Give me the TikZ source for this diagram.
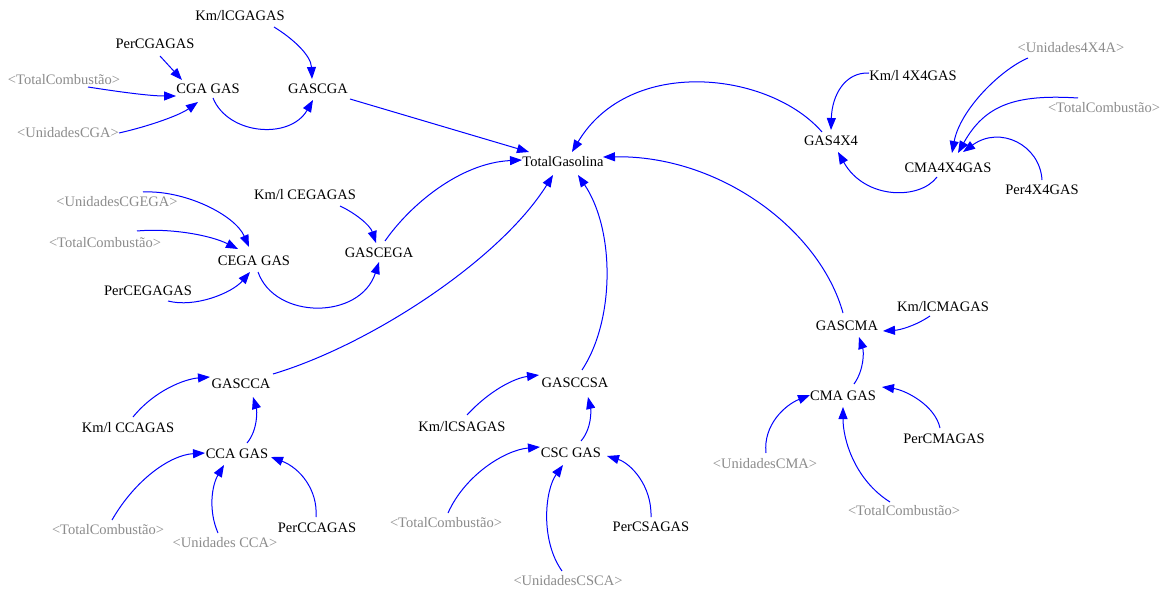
\documentclass[tikz,border=0pt]{standalone}
\usepackage{fontspec}
\setmainfont{Liberation Serif}
\usetikzlibrary{arrows.meta}
\definecolor{linkblue}{RGB}{0,0,255}
\definecolor{ghostgray}{RGB}{140,140,140}
\begin{document}
\begin{tikzpicture}[x=1pt,y=-1pt,
  var/.style={anchor=base,inner sep=0pt,text=black,font=\fontsize{14.5}{17}\selectfont},
  ghost/.style={var,text=ghostgray},
  link/.style={draw=linkblue,line width=1pt,-{Triangle[length=12pt,width=9pt]},fill=none}]
\useasboundingbox[fill=white] (0,0) rectangle (1168,591);

% ---- variables ----
\node[var]   (km1)     at (240,21)  {Km/lCGAGAS};
\node[var]   (percga)  at (155,49)  {PerCGAGAS};
\node[ghost] (tcCGA)   at (64,85)   {<TotalCombustão>};
\node[var]   (cga)     at (208,94)  {CGA GAS};
\node[var]   (gascga)  at (318,94)  {GASCGA};
\node[ghost] (ucga)    at (68,138)  {<UnidadesCGA>};
\node[var]   (total)   at (563,167) {TotalGasolina};

\node[ghost] (u4x4)    at (1071,53) {<Unidades4X4A>};
\node[var]   (km4)     at (913,81)  {Km/l 4X4GAS};
\node[ghost] (tc4)     at (1104,113){<TotalCombustão>};
\node[var]   (gas4)    at (831,146) {GAS4X4};
\node[var]   (cma4)    at (948,172) {CMA4X4GAS};
\node[var]   (per4)    at (1042,195){Per4X4GAS};

\node[var]   (kmcega)  at (305,200) {Km/l CEGAGAS};
\node[ghost] (ucgega)  at (117,207) {<UnidadesCGEGA>};
\node[ghost] (tcCEGA)  at (105,247) {<TotalCombustão>};
\node[var]   (gascega) at (379,257) {GASCEGA};
\node[var]   (cega)    at (254,265) {CEGA GAS};
\node[var]   (percega) at (148,295) {PerCEGAGAS};

\node[var]   (kmcma)   at (943,311) {Km/lCMAGAS};
\node[var]   (gascma)  at (847,330) {GASCMA};
\node[var]   (cmagas)  at (843,400) {CMA GAS};
\node[var]   (percma)  at (944,443) {PerCMAGAS};
\node[ghost] (ucma)    at (765,468) {<UnidadesCMA>};
\node[ghost] (tcCMA)   at (904,515) {<TotalCombustão>};

\node[var]   (gascca)  at (241,388) {GASCCA};
\node[var]   (kmcca)   at (128,432) {Km/l CCAGAS};
\node[var]   (ccagas)  at (237,458) {CCA GAS};
\node[ghost] (tcCCA)   at (108,534) {<TotalCombustão>};
\node[ghost] (ucca)    at (225,547) {<Unidades CCA>};
\node[var]   (percca)  at (317,532) {PerCCAGAS};

\node[var]   (gasccsa) at (575,387) {GASCCSA};
\node[var]   (kmcsa)   at (462,431) {Km/lCSAGAS};
\node[var]   (cscgas)  at (571,457) {CSC GAS};
\node[ghost] (tcCSC)   at (446,527) {<TotalCombustão>};
\node[var]   (percsa)  at (651,531) {PerCSAGAS};
\node[ghost] (ucsca)   at (568,585) {<UnidadesCSCA>};

% ---- CGA block ----
\draw[link] ([shift={(34,6)}]km1.base) .. controls (292,38) and (311,55) .. ([shift={(-6,-15)}]gascga.base);
\draw[link] ([shift={(5,7)}]percga.base) -- ([shift={(-26,-14)}]cga.base);
\draw[link] ([shift={(24,2)}]tcCGA.base) .. controls (120,92) and (150,96) .. ([shift={(-32,2)}]cga.base);
\draw[link] ([shift={(51,-5)}]ucga.base) .. controls (150,126) and (180,115) .. ([shift={(-10,8)}]cga.base);
\draw[link] ([shift={(5,4)}]cga.base) .. controls (228,135) and (290,140) .. ([shift={(-5,6)}]gascga.base);
\draw[link] ([shift={(32,5)}]gascga.base) -- ([shift={(-34,-15)}]total.base);

% ---- into TotalGasolina ----
\draw[link] ([shift={(-9,-14)}]gas4.base) .. controls (770,72) and (630,55) .. ([shift={(9,-15)}]total.base);
\draw[link] ([shift={(-4,-17)}]gascma.base) .. controls (820,230) and (720,155) .. ([shift={(40,-10)}]total.base);
\draw[link] ([shift={(6,-16)}]gascega.base) .. controls (410,205) and (460,163) .. ([shift={(-41,-7)}]total.base);
\draw[link] ([shift={(32,-14)}]gascca.base) .. controls (370,345) and (500,260) .. ([shift={(-10,8)}]total.base);
\draw[link] ([shift={(7,-17)}]gasccsa.base) .. controls (615,320) and (615,230) .. ([shift={(15,8)}]total.base);

% ---- 4X4 block ----
\draw[link] ([shift={(-44,-8)}]km4.base) .. controls (845,72) and (832,95) .. ([shift={(0,-16)}]gas4.base);
\draw[link] ([shift={(-11,5)}]cma4.base) .. controls (920,200) and (865,200) .. ([shift={(7,6)}]gas4.base);
\draw[link] ([shift={(-43,5)}]u4x4.base) .. controls (1000,70) and (960,110) .. ([shift={(4,-19)}]cma4.base);
\draw[link] ([shift={(-26,-15)}]tc4.base) .. controls (1015,94) and (985,105) .. ([shift={(10,-19)}]cma4.base);
\draw[link] ([shift={(0,-15)}]per4.base) .. controls (1040,145) and (1000,125) .. ([shift={(15,-20)}]cma4.base);

% ---- CEGA block ----
\draw[link] ([shift={(26,-15)}]ucgega.base) .. controls (185,190) and (235,215) .. ([shift={(-5,-18)}]cega.base);
\draw[link] ([shift={(32,-16)}]tcCEGA.base) .. controls (170,228) and (210,235) .. ([shift={(-16,-16)}]cega.base);
\draw[link] ([shift={(20,6)}]percega.base) .. controls (195,308) and (232,293) .. ([shift={(-4,7)}]cega.base);
\draw[link] ([shift={(35,6)}]kmcega.base) .. controls (355,213) and (370,225) .. ([shift={(-3,-14)}]gascega.base);
\draw[link] ([shift={(4,7)}]cega.base) .. controls (275,320) and (360,320) .. ([shift={(0,5)}]gascega.base);

% ---- CMA block ----
\draw[link] ([shift={(-13,5)}]kmcma.base) .. controls (915,326) and (900,330) .. ([shift={(36,1)}]gascma.base);
\draw[link] ([shift={(11,-16)}]cmagas.base) .. controls (864,370) and (864,352) .. ([shift={(12,7)}]gascma.base);
\draw[link] ([shift={(1,-15)}]ucma.base) .. controls (763,425) and (785,405) .. ([shift={(-33,-5)}]cmagas.base);
\draw[link] ([shift={(-14,-13)}]tcCMA.base) .. controls (855,480) and (843,440) .. ([shift={(0,7)}]cmagas.base);
\draw[link] ([shift={(-4,-15)}]percma.base) .. controls (935,405) and (905,390) .. ([shift={(39,-13)}]cmagas.base);

% ---- CCA block ----
\draw[link] ([shift={(5,-15)}]kmcca.base) .. controls (155,390) and (185,379) .. ([shift={(-31,-11)}]gascca.base);
\draw[link] ([shift={(10,-15)}]ccagas.base) .. controls (258,430) and (257,410) .. ([shift={(12,9)}]gascca.base);
\draw[link] ([shift={(4,-14)}]tcCCA.base) .. controls (135,480) and (170,455) .. ([shift={(-32,-5)}]ccagas.base);
\draw[link] ([shift={(-7,-14)}]ucca.base) .. controls (208,510) and (212,485) .. ([shift={(-13,7)}]ccagas.base);
\draw[link] ([shift={(-1,-15)}]percca.base) .. controls (318,490) and (300,468) .. ([shift={(34,-1)}]ccagas.base);

% ---- CSA block ----
\draw[link] ([shift={(5,-16)}]kmcsa.base) .. controls (490,390) and (515,378) .. ([shift={(-36,-12)}]gasccsa.base);
\draw[link] ([shift={(10,-16)}]cscgas.base) .. controls (592,428) and (591,410) .. ([shift={(13,10)}]gasccsa.base);
\draw[link] ([shift={(2,-14)}]tcCSC.base) .. controls (465,475) and (505,450) .. ([shift={(-31,-10)}]cscgas.base);
\draw[link] ([shift={(-6,-14)}]ucsca.base) .. controls (540,540) and (545,490) .. ([shift={(-8,8)}]cscgas.base);
\draw[link] ([shift={(0,-14)}]percsa.base) .. controls (652,485) and (630,463) .. ([shift={(36,-1)}]cscgas.base);
\end{tikzpicture}
\end{document}
